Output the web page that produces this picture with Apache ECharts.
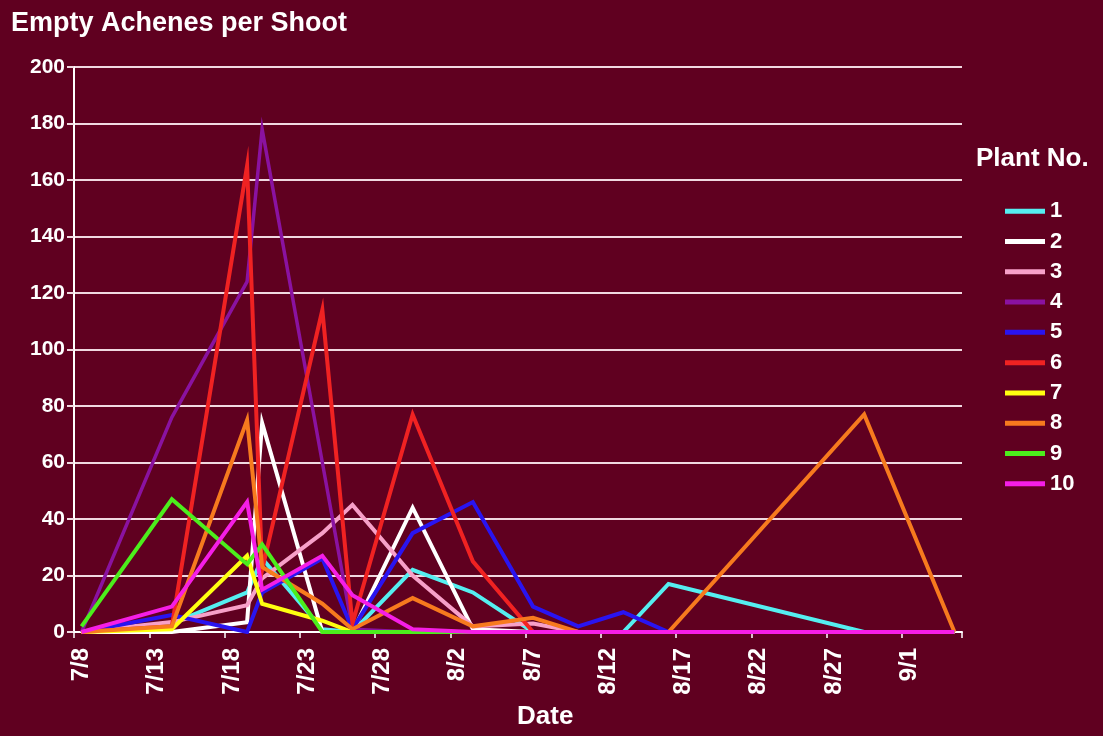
<!DOCTYPE html>
<html>
<head>
<meta charset="utf-8">
<script src="https://cdn.jsdelivr.net/npm/echarts@6/dist/echarts.min.js"></script>
<style>
html,body{margin:0;padding:0;background:#600020;}
#chart{width:1103px;height:736px;}
</style>
</head>
<body>
<div id="chart"></div>
<script>
// Daily category axis 7/8 .. 9/4
const dayLabels = ['7/8','7/9','7/10','7/11','7/12','7/13','7/14','7/15','7/16','7/17','7/18','7/19','7/20','7/21','7/22','7/23','7/24','7/25','7/26','7/27','7/28','7/29','7/30','7/31',
'8/1','8/2','8/3','8/4','8/5','8/6','8/7','8/8','8/9','8/10','8/11','8/12','8/13','8/14','8/15','8/16','8/17','8/18','8/19','8/20','8/21','8/22','8/23','8/24','8/25','8/26','8/27','8/28','8/29','8/30','8/31',
'9/1','9/2','9/3','9/4'];

// Sampling dates
const sampleDates = ['7/8','7/14','7/19','7/20','7/24','7/26','7/30','8/3','8/7','8/10','8/13','8/16','8/29','9/4'];

const plantNames = ['1','2','3','4','5','6','7','8','9','10'];

const plant1  = [0, 3, 14, 26, 1, 0, 22, 14, 0, 0, 0, 17, 0, 0];
const plant2  = [0, 0, 3.5, 74, 0, 0, 44, 1, 0, 0, 0, 0, 0, 0];
const plant3  = [0, 3.5, 9.5, 19, 35, 45, 20, 2, 3, 0, 0, 0, 0, 0];
const plant4  = [0, 76, 124, 178, 60, 1, 0, 0, 0, 0, 0, 0, 0, 0];
const plant5  = [0, 6, 0, 14, 26, 1, 35, 46, 9, 2, 7, 0, 0, 0];
const plant6  = [0, 2, 165, 22, 114, 3, 77, 25, 0, 0, 0, 0, 0, 0];
const plant7  = [0, 1, 27, 10, 4, 0, 0, 0, 0, 0, 0, 0, 0, 0];
const plant8  = [0, 2, 75, 23, 10, 1, 12, 2, 5, 0, 0, 0, 77, 0];
const plant9  = [2, 47, 24, 31, 0, 0, 0, 0, 0, 0, 0, 0, 0, 0];
const plant10 = [0, 9, 46, 15, 27, 13, 1, 0, 0, 0, 0, 0, 0, 0];

const plantValues = [plant1, plant2, plant3, plant4, plant5, plant6, plant7, plant8, plant9, plant10];
const plantColors = ['#55eef0','#ffffff','#f7a0c8','#8a12a0','#2a14f0','#f02222','#ffff10','#f77a1e','#4cee1c','#f51ee6'];

const fontFam = "'Liberation Sans', Arial, sans-serif";

const series = plantNames.map((name, i) => ({
  name: name,
  type: 'line',
  data: sampleDates.map((d, j) => [d, plantValues[i][j]]),
  showSymbol: false,
  symbol: 'none',
  lineStyle: { color: plantColors[i], width: i === 3 ? 3.5 : 4, join: 'miter', miterLimit: 20 },
  itemStyle: { color: plantColors[i] },
  animation: false
}));

const chart = echarts.init(document.getElementById('chart'));
chart.setOption({
  backgroundColor: '#600020',
  animation: false,
  title: [
    { text: 'Empty Achenes per Shoot', left: 6, top: 5,
      textStyle: { color: '#ffffff', fontSize: 27, fontWeight: 'bold', fontFamily: fontFam } },
    { text: 'Plant No.', left: 971, top: 141,
      textStyle: { color: '#ffffff', fontSize: 26, fontWeight: 'bold', fontFamily: fontFam } },
    { text: 'Date', left: 512, top: 699,
      textStyle: { color: '#ffffff', fontSize: 26, fontWeight: 'bold', fontFamily: fontFam } }
  ],
  legend: {
    orient: 'vertical',
    left: 1000,
    top: 195,
    itemWidth: 40,
    itemHeight: 5,
    itemGap: 8,
    icon: 'rect',
    data: plantNames,
    textStyle: { color: '#ffffff', fontSize: 22, fontWeight: 'bold', fontFamily: fontFam, lineHeight: 22.3 }
  },
  grid: { left: 74, right: 141, top: 67, bottom: 104, containLabel: false },
  xAxis: {
    type: 'category',
    data: dayLabels,
    boundaryGap: true,
    axisLine: { lineStyle: { color: '#ffffff', width: 2 } },
    axisTick: { show: true, interval: 4, length: 6, lineStyle: { color: '#ffffff', width: 1.5 } },
    axisLabel: { interval: 4, rotate: 90, margin: 16, color: '#ffffff', fontSize: 24, fontWeight: 'bold', fontFamily: fontFam },
    splitLine: { show: false }
  },
  yAxis: {
    type: 'value',
    min: 0, max: 200, interval: 20,
    axisLine: { show: true, lineStyle: { color: '#ffffff', width: 2 } },
    axisTick: { show: true, length: 7, lineStyle: { color: '#f0d8e0', width: 2 } },
    axisLabel: { color: '#ffffff', fontSize: 21, fontWeight: 'bold', fontFamily: fontFam, margin: 9 },
    splitLine: { show: true, lineStyle: { color: '#f0d8e0', width: 2 } }
  },
  series: series
});
</script>
</body>
</html>
